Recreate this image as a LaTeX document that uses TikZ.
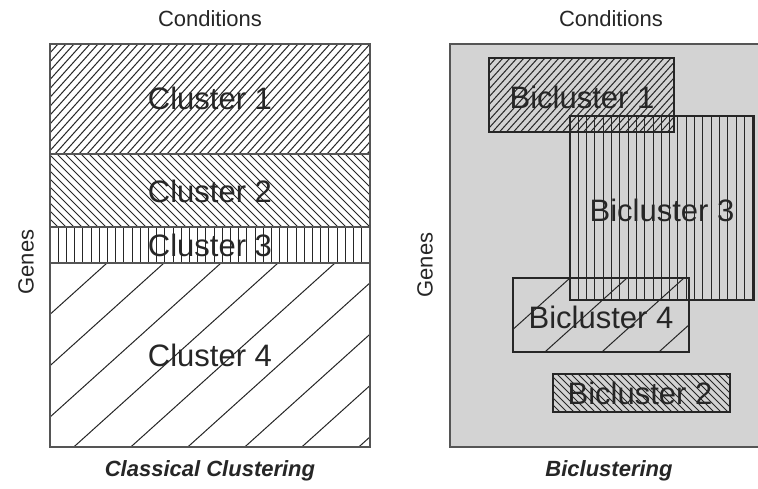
\documentclass[tikz,border=0pt]{standalone}
\usepackage{fontspec}
\setmainfont{Liberation Sans}
\definecolor{panelgray}{HTML}{D3D3D3}
\definecolor{edgegray}{HTML}{555555}
\definecolor{inkgray}{HTML}{262626}
\tikzset{
  hatchline/.style={draw=inkgray, line width=1pt},
  boxline/.style={draw=edgegray, line width=1.5pt},
  biclbox/.style={draw=inkgray, line width=1.1pt},
  bigtext/.style={text=inkgray, font=\fontsize{31}{36}\selectfont, inner sep=0pt},
  axistext/.style={text=inkgray, font=\fontsize{22}{26}\selectfont, inner sep=0pt},
  titletext/.style={text=inkgray, font=\fontsize{22}{26}\selectfont\bfseries\itshape, inner sep=0pt}
}
% rising hatch: x1 y1 x2 y2 spacing k (dx per unit of height)
\newcommand\hatchrise[6]{%
  \begin{scope}
    \clip (#1,#2) rectangle (#3,#4);
    \pgfmathsetmacro\hh{#4-#2}
    \pgfmathsetmacro\ww{\hh*#6}
    \pgfmathsetmacro\st{#1-\ww}
    \pgfmathsetmacro\nx{\st+#5}
    \foreach \i in {\st,\nx,...,#3} \draw[hatchline] (\i,#4) -- ++(\ww,-\hh);
  \end{scope}}
% falling hatch
\newcommand\hatchfall[5]{%
  \begin{scope}
    \clip (#1,#2) rectangle (#3,#4);
    \pgfmathsetmacro\hh{#4-#2}
    \pgfmathsetmacro\st{#1-\hh}
    \pgfmathsetmacro\nx{\st+#5}
    \foreach \i in {\st,\nx,...,#3} \draw[hatchline] (\i,#2) -- ++(\hh,\hh);
  \end{scope}}
% vertical hatch
\newcommand\hatchvert[5]{%
  \begin{scope}
    \clip (#1,#2) rectangle (#3,#4);
    \pgfmathsetmacro\st{#1+#5}
    \pgfmathsetmacro\nx{\st+#5}
    \foreach \i in {\st,\nx,...,#3} \draw[hatchline] (\i,#2) -- (\i,#4);
  \end{scope}}
\begin{document}
\begin{tikzpicture}[x=1pt,y=-1pt]
\useasboundingbox (0,0) rectangle (758,488);
\fill[white] (0,0) rectangle (758,488);

% ---------- left panel: classical clustering ----------
\hatchrise{50}{44}{370}{154}{8}{0.9}
\hatchfall{50}{154}{370}{227}{8}
\hatchvert{50}{227}{370}{263}{8.2}
\hatchrise{50}{263}{370}{447}{57}{1.11}
\draw[boxline] (50,154) -- (370,154);
\draw[boxline] (50,227) -- (370,227);
\draw[boxline] (50,263) -- (370,263);
\draw[boxline] (50,44) rectangle (370,447);

\node[bigtext] (c1) at (210,98) {Cluster 1};
\node[bigtext] (c2) at (210,191) {Cluster 2};
\node[bigtext] (c3) at (210,245) {Cluster 3};
\node[bigtext] (c4) at (210,355) {Cluster 4};

\node[axistext] (condL) at (210,19) {Conditions};
\node[axistext, rotate=90] (genesL) at (26,262) {Genes};
\node[titletext] (titleL) at (210,471) {Classical Clustering};

% ---------- right panel: biclustering ----------
\fill[panelgray] (450,44) rectangle (775,447);
\draw[boxline] (775,44) -- (450,44) -- (450,447) -- (775,447);

% bicluster 1
\hatchrise{489}{58}{674}{132}{7}{0.9}
\draw[biclbox] (489,58) rectangle (674,132);
% bicluster 2
\hatchfall{553}{374}{730}{412}{7}
\draw[biclbox] (553,374) rectangle (730,412);
% bicluster 4
\hatchrise{513}{278}{689}{352}{57}{1.11}
\draw[biclbox] (513,278) rectangle (689,352);
% bicluster 3
\hatchvert{570}{116}{754}{300}{8.3}
\draw[biclbox] (570,116) rectangle (754,300);

\node[bigtext] (b1) at (582,97) {Bicluster 1};
\node[bigtext] (b3) at (662,210) {Bicluster 3};
\node[bigtext] (b4) at (601,317) {Bicluster 4};
\node[bigtext] (b2) at (640,393) {Bicluster 2};

\node[axistext] (condR) at (611,19) {Conditions};
\node[axistext, rotate=90] (genesR) at (425,265) {Genes};
\node[titletext] (titleR) at (609,471) {Biclustering};
\end{tikzpicture}
\end{document}
